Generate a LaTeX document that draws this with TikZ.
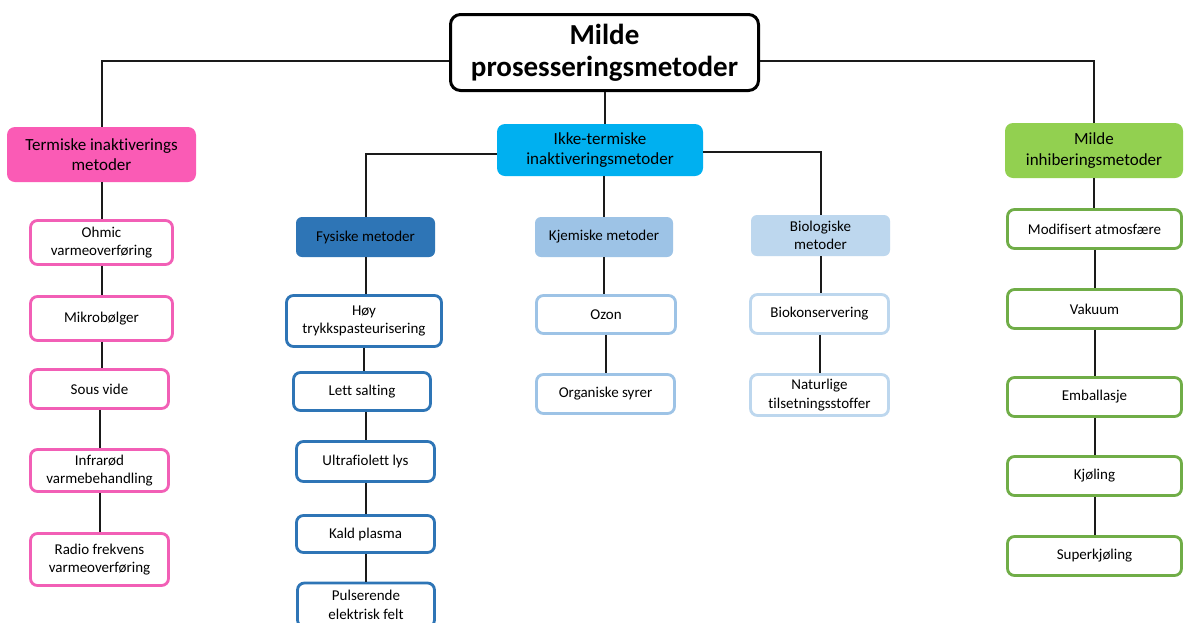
\documentclass[tikz,border=0pt]{standalone}
\usepackage{fontspec}
\setmainfont{Carlito}[Ligatures=NoCommon]
\definecolor{pinkfill}{HTML}{FA5BB5}
\definecolor{pinkline}{HTML}{F25FB6}
\definecolor{cyanfill}{HTML}{00B0F0}
\definecolor{greenfill}{HTML}{92D050}
\definecolor{greenline}{HTML}{70AD47}
\definecolor{darkblue}{HTML}{2E75B6}
\definecolor{midblue}{HTML}{9DC3E6}
\definecolor{lightblue}{HTML}{BDD7EE}
\definecolor{linecol}{HTML}{1A1A1A}
\tikzset{
  titlebox/.style={draw=black, line width=3pt, rounded corners=10pt, fill=white, align=center,
    inner sep=0pt, font=\fontsize{29}{32}\selectfont\bfseries},
  headbox/.style={rounded corners=8pt, align=center, inner sep=0pt, text=black,
    font=\fontsize{17}{20.5}\selectfont},
  subbox/.style={rounded corners=6pt, align=center, inner sep=0pt, text=black,
    font=\fontsize{15}{18.5}\selectfont},
  leafbox/.style={draw, line width=2.8pt, rounded corners=7pt, fill=white, align=center,
    inner sep=0pt, text=black, font=\fontsize{15}{18.5}\selectfont},
  conn/.style={draw=linecol, line width=2pt}
}
\begin{document}
\begin{tikzpicture}[x=1pt,y=-1pt]
\fill[white] (0,0) rectangle (1184,622);
\useasboundingbox (0,0) rectangle (1184,622);

% title
\node[titlebox, minimum width=308pt, minimum height=76pt] (title) at (604.5,52.5) {Milde\\prosesseringsmetoder};

% headers
\node[headbox, fill=pinkfill, minimum width=189pt, minimum height=55pt] (term) at (101.5,154.5) {Termiske inaktiverings\\metoder};
\node[headbox, fill=cyanfill, minimum width=206pt, minimum height=52pt] (ikke) at (600,150) {Ikke-termiske\\inaktiveringsmetoder};
\node[headbox, fill=greenfill, minimum width=178pt, minimum height=55pt] (milde) at (1094,150.5) {Milde\\inhiberingsmetoder};

% sub headers
\node[subbox, fill=darkblue, minimum width=139pt, minimum height=40pt] (fys) at (365.5,237) {Fysiske metoder};
\node[subbox, fill=midblue, minimum width=138pt, minimum height=40pt] (kjem) at (604,237) {Kjemiske metoder};
\node[subbox, fill=lightblue, minimum width=139pt, minimum height=41pt] (bio) at (820.5,235.5) {Biologiske\\metoder};

% pink column
\node[leafbox, draw=pinkline, minimum width=142pt, minimum height=44pt] (ohm) at (101.5,242.5) {Ohmic\\varmeoverføring};
\node[leafbox, draw=pinkline, minimum width=142pt, minimum height=44pt] (mikro) at (101.5,318.5) {Mikrobølger};
\node[leafbox, draw=pinkline, minimum width=138pt, minimum height=39pt] (sous) at (99.5,389) {Sous vide};
\node[leafbox, draw=pinkline, minimum width=138pt, minimum height=42pt] (infra) at (99.5,470.5) {Infrarød\\varmebehandling};
\node[leafbox, draw=pinkline, minimum width=138pt, minimum height=52pt] (radio) at (99.5,559.5) {Radio frekvens\\varmeoverføring};

% dark blue column
\node[leafbox, draw=darkblue, minimum width=155pt, minimum height=51pt] (hoy) at (364,321) {Høy\\trykkspasteurisering};
\node[leafbox, draw=darkblue, minimum width=137pt, minimum height=38pt] (lett) at (362,391.5) {Lett salting};
\node[leafbox, draw=darkblue, minimum width=138pt, minimum height=40pt] (ultra) at (365.5,461.5) {Ultrafiolett lys};
\node[leafbox, draw=darkblue, minimum width=138pt, minimum height=37pt] (kald) at (365.5,534) {Kald plasma};
\node[leafbox, draw=darkblue, minimum width=137pt, minimum height=44pt] (puls) at (366,605) {Pulserende\\elektrisk felt};

% mid blue column
\node[leafbox, draw=midblue, minimum width=139pt, minimum height=38pt] (ozon) at (606,314.5) {Ozon};
\node[leafbox, draw=midblue, minimum width=138pt, minimum height=39pt] (org) at (605.5,394) {Organiske syrer};

% light blue column
\node[leafbox, draw=lightblue, minimum width=138pt, minimum height=39pt] (biok) at (819.5,314) {Biokonservering};
\node[leafbox, draw=lightblue, minimum width=138pt, minimum height=41pt] (nat) at (819.5,395) {Naturlige\\tilsetningsstoffer};

% green column
\node[leafbox, draw=greenline, minimum width=174pt, minimum height=39pt] (mod) at (1094.5,229) {Modifisert atmosfære};
\node[leafbox, draw=greenline, minimum width=174pt, minimum height=39pt] (vak) at (1094.5,309) {Vakuum};
\node[leafbox, draw=greenline, minimum width=174pt, minimum height=39pt] (emb) at (1094.5,397) {Emballasje};
\node[leafbox, draw=greenline, minimum width=174pt, minimum height=39pt] (kjol) at (1094.5,476) {Kjøling};
\node[leafbox, draw=greenline, minimum width=174pt, minimum height=39pt] (super) at (1094.5,556) {Superkjøling};

% connectors
\draw[conn] ([yshift=-8.5pt]title.west) -| (term.north);
\draw[conn] ([yshift=-8.5pt]title.east) -| (milde.north);
\draw[conn] (title.south) -- (title.south |- ikke.north);
\draw[conn] ([yshift=-4pt]ikke.west) -| (fys.north);
\draw[conn] ([yshift=-2pt]ikke.east) -| (bio.north);
\draw[conn] (ikke.south -| kjem.north) -- (kjem.north);

\draw[conn] (term.south) -- (term.south |- ohm.north);
\draw[conn] (ohm.south) -- (ohm.south |- mikro.north);
\draw[conn] (mikro.south) -- (mikro.south |- sous.north);
\draw[conn] (sous.south) -- (sous.south |- infra.north);
\draw[conn] (infra.south) -- (infra.south |- radio.north);

\draw[conn] (fys.south) -- (fys.south |- hoy.north);
\draw[conn] (hoy.south) -- (hoy.south |- lett.north);
\draw[conn] (ultra.north |- lett.south) -- (ultra.north);
\draw[conn] (ultra.south) -- (ultra.south |- kald.north);
\draw[conn] (kald.south) -- (kald.south |- puls.north);

\draw[conn] (kjem.south) -- (kjem.south |- ozon.north);
\draw[conn] (ozon.south) -- (ozon.south |- org.north);

\draw[conn] (bio.south) -- (bio.south |- biok.north);
\draw[conn] (biok.south) -- (biok.south |- nat.north);

\draw[conn] (milde.south) -- (milde.south |- mod.north);
\draw[conn] (mod.south) -- (mod.south |- vak.north);
\draw[conn] (vak.south) -- (vak.south |- emb.north);
\draw[conn] (emb.south) -- (emb.south |- kjol.north);
\draw[conn] (kjol.south) -- (kjol.south |- super.north);
\end{tikzpicture}
\end{document}
